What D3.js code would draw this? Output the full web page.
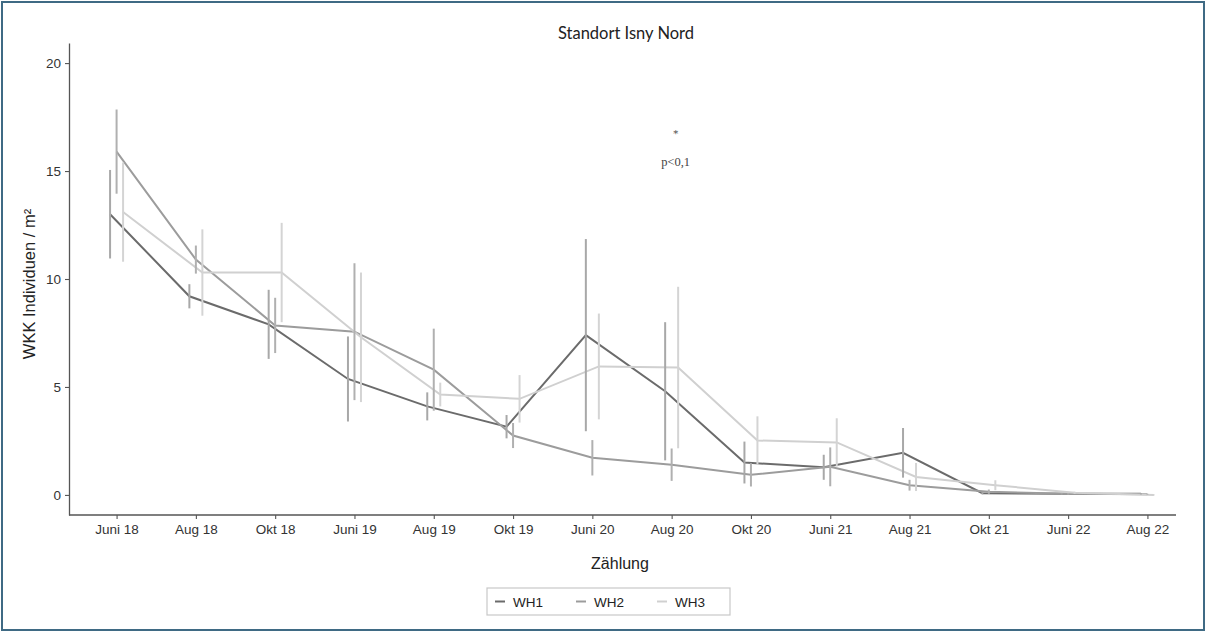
<!DOCTYPE html>
<html>
<head>
<meta charset="utf-8">
<script src="https://cdn.jsdelivr.net/npm/d3@7"></script>
<style>
  body { margin: 0; background: #fff; }
  svg { display: block; }
  .tick text { font-family: "Liberation Sans", Arial, sans-serif; font-size: 13.5px; fill: #333; }
</style>
</head>
<body>
<div id="chart"></div>
<script>
// Standort Isny Nord - WKK Individuen / m2 per Zählung
const categories = ["Juni 18", "Aug 18", "Okt 18", "Juni 19", "Aug 19", "Okt 19", "Juni 20",
                    "Aug 20", "Okt 20", "Juni 21", "Aug 21", "Okt 21", "Juni 22", "Aug 22"];
const seriesNames = ["WH1", "WH2", "WH3"];

const wh1Mean = [13.0, 9.2, 7.9, 5.37, 4.1, 3.16, 7.4, 4.8, 1.5, 1.28, 1.95, 0.08, 0.05, 0.05];
const wh1Err  = [2.05, 0.56, 1.6, 1.97, 0.65, 0.54, 4.45, 3.2, 0.97, 0.58, 1.15, 0.05, 0.03, 0.03];
const wh2Mean = [15.9, 10.9, 7.85, 7.56, 5.8, 2.75, 1.72, 1.4, 0.93, 1.3, 0.45, 0.15, 0.05, 0.03];
const wh2Err  = [1.95, 0.65, 1.28, 3.17, 1.9, 0.58, 0.82, 0.75, 0.54, 0.9, 0.25, 0.1, 0.03, 0.02];
const wh3Mean = [13.1, 10.3, 10.3, 7.3, 4.65, 4.45, 5.95, 5.9, 2.52, 2.43, 0.83, 0.45, 0.1, 0.0];
const wh3Err  = [2.3, 2.0, 2.3, 3.0, 0.55, 1.1, 2.45, 3.74, 1.12, 1.12, 0.65, 0.23, 0.05, 0.02];

const yTicks = [0, 5, 10, 15, 20];
const annotation = {cat: "Aug 20", star: 16.75, label: 15.4, text: "p<0,1"};

const lineColors = ["#6b6b6b", "#9c9c9c", "#d0d0d0"];
const barColors = ["#a8a8a8", "#b0b0b0", "#d4d4d4"];

const W = 1206, H = 632;
const margin = {top: 43, right: 11, bottom: 117, left: 69};
const axisEnd = 1176;

const svg = d3.select("#chart").append("svg")
  .attr("width", W).attr("height", H);

svg.append("rect")
  .attr("x", 2).attr("y", 2).attr("width", W - 4).attr("height", H - 4)
  .attr("fill", "#fff").attr("stroke", "#3f6a84").attr("stroke-width", 2);

const x = d3.scalePoint().domain(categories)
  .range([margin.left, W - margin.right]).padding(0.6);
const y = d3.scaleLinear().domain([-0.93, 20.93])
  .range([H - margin.bottom, margin.top]);

const dodge = x.step() * 0.082;

const series = seriesNames.map(function(name, s) {
  const means = [wh1Mean, wh2Mean, wh3Mean][s];
  const errs = [wh1Err, wh2Err, wh3Err][s];
  return {
    name: name, idx: s,
    values: categories.map(function(c, i) { return {cat: c, mean: means[i], err: errs[i]}; })
  };
});

function px(d, s) { return x(d.cat) + (s - 1) * dodge; }

// axes
const xAxis = svg.append("g")
  .attr("transform", "translate(0," + (H - margin.bottom) + ")")
  .call(d3.axisBottom(x).tickSize(4).tickSizeOuter(0).tickPadding(5));
xAxis.select(".domain").attr("d", "M" + margin.left + ",0H" + axisEnd);
const yAxis = svg.append("g")
  .attr("transform", "translate(" + margin.left + ",0)")
  .call(d3.axisLeft(y).tickValues(yTicks).tickSize(4).tickSizeOuter(0).tickPadding(4));
[xAxis, yAxis].forEach(function(a) {
  a.select(".domain").attr("stroke", "#555").attr("stroke-width", 1.3);
  a.selectAll(".tick line").attr("stroke", "#555").attr("stroke-width", 1.1);
});

// lines
const line = d3.line()
  .x(function(d) { return d.x; })
  .y(function(d) { return y(d.mean); });

const plot = svg.append("g");
series.forEach(function(se) {
  const pts = se.values.map(function(d) { return {x: px(d, se.idx), mean: d.mean}; });
  plot.append("path")
    .datum(pts)
    .attr("d", line)
    .attr("fill", "none")
    .attr("stroke", lineColors[se.idx])
    .attr("stroke-width", 2);
});

// error bars
series.forEach(function(se) {
  plot.append("g").selectAll("line")
    .data(se.values)
    .enter().append("line")
    .attr("x1", function(d) { return px(d, se.idx); })
    .attr("x2", function(d) { return px(d, se.idx); })
    .attr("y1", function(d) { return y(d.mean + d.err); })
    .attr("y2", function(d) { return y(d.mean - d.err); })
    .attr("stroke", barColors[se.idx])
    .attr("stroke-width", 2);
});

// annotation
svg.append("text")
  .attr("x", x(annotation.cat) + 4).attr("y", y(annotation.star) + 4)
  .attr("text-anchor", "middle")
  .style("font-family", "DejaVu Serif, serif").style("font-size", "10px").style("fill", "#444")
  .text("*");
svg.append("text")
  .attr("x", x(annotation.cat) + 4).attr("y", y(annotation.label) + 4)
  .attr("text-anchor", "middle")
  .style("font-family", "Liberation Serif, serif").style("font-size", "12.5px").style("fill", "#444")
  .text(annotation.text);

// titles
svg.append("text")
  .attr("x", 626).attr("y", 39)
  .attr("text-anchor", "middle")
  .style("font-family", "Lato, sans-serif").style("font-size", "16.5px").style("fill", "#222")
  .text("Standort Isny Nord");

svg.append("text")
  .attr("x", 620).attr("y", 569)
  .attr("text-anchor", "middle")
  .style("font-family", "Liberation Sans, Arial, sans-serif").style("font-size", "16px").style("fill", "#222")
  .text("Zählung");

svg.append("text")
  .attr("transform", "translate(35," + 284 + ") rotate(-90)")
  .attr("text-anchor", "middle")
  .style("font-family", "Liberation Sans, Arial, sans-serif").style("font-size", "16.5px").style("fill", "#222")
  .text("WKK Individuen / m²");

// legend
const legend = svg.append("g").attr("transform", "translate(487,588)");
legend.append("rect")
  .attr("width", 243).attr("height", 27)
  .attr("fill", "#fff").attr("stroke", "#c8c8c8").attr("stroke-width", 1.2);
const item = legend.selectAll("g.item")
  .data(seriesNames)
  .enter().append("g")
  .attr("class", "item")
  .attr("transform", function(d, i) { return "translate(" + (8 + i * 81) + ",13.5)"; });
item.append("line")
  .attr("x1", 0).attr("x2", 10)
  .attr("stroke", function(d, i) { return lineColors[i]; })
  .attr("stroke-width", 2);
item.append("text")
  .attr("x", 18).attr("y", 5)
  .style("font-family", "Liberation Sans, Arial, sans-serif").style("font-size", "13.5px").style("fill", "#222")
  .text(function(d) { return d; });
</script>
</body>
</html>
